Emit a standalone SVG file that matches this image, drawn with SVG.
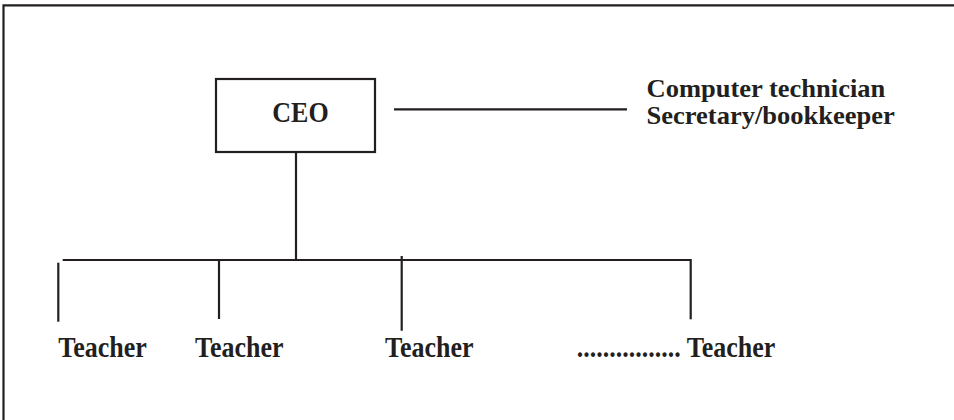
<svg xmlns="http://www.w3.org/2000/svg" width="954" height="420" viewBox="0 0 954 420">
  <style>
    .ln { stroke: #231f20; stroke-width: 2.2; fill: none; }
    .box { stroke: #231f20; stroke-width: 2.2; fill: #ffffff; }
    .lbl { font-family: "Liberation Serif", "Times New Roman", serif; font-weight: bold; font-size: 26px; fill: #231f20; }
  </style>
  <rect width="954" height="420" fill="#ffffff"/>

  <!-- page frame (top and left edges only) -->
  <path class="ln" d="M3.5,420 V5.3 H954" stroke-width="2.6"/>

  <!-- connectors -->
  <g id="connectors">
    <line class="ln" x1="394" y1="109.3" x2="627" y2="109.3"/>
    <line class="ln" x1="296" y1="152" x2="296" y2="260"/>
    <line class="ln" x1="62.7" y1="260" x2="691" y2="260"/>
    <line class="ln" x1="58.3" y1="262.7" x2="58.3" y2="321.7"/>
    <line class="ln" x1="219" y1="259" x2="219" y2="319"/>
    <line class="ln" x1="401.7" y1="256" x2="401.7" y2="330.7"/>
    <line class="ln" x1="690.7" y1="259" x2="690.7" y2="319.3"/>
  </g>

  <!-- labels are set slightly tall (vertical scale 1.1) -->
  <g id="ceo">
    <rect class="box" x="216" y="79" width="159" height="73"/>
    <text class="lbl" transform="translate(300.5,122) scale(1,1.1)" text-anchor="middle">CEO</text>
  </g>

  <g id="staff">
    <text class="lbl" transform="translate(646.5,97) scale(1.02,1)">Computer technician</text>
    <text class="lbl" transform="translate(646.5,124) scale(1.02,1)">Secretary/bookkeeper</text>
  </g>

  <g id="teacher1">
    <text class="lbl" transform="translate(58.3,357.3) scale(1,1.1)">Teacher</text>
  </g>
  <g id="teacher2">
    <text class="lbl" transform="translate(195,357.3) scale(1,1.1)">Teacher</text>
  </g>
  <g id="teacher3">
    <text class="lbl" transform="translate(385,357.3) scale(1,1.1)">Teacher</text>
  </g>
  <g id="teacher4">
    <text class="lbl" transform="translate(576.7,357.3) scale(1,1.1)">................ Teacher</text>
  </g>
</svg>
